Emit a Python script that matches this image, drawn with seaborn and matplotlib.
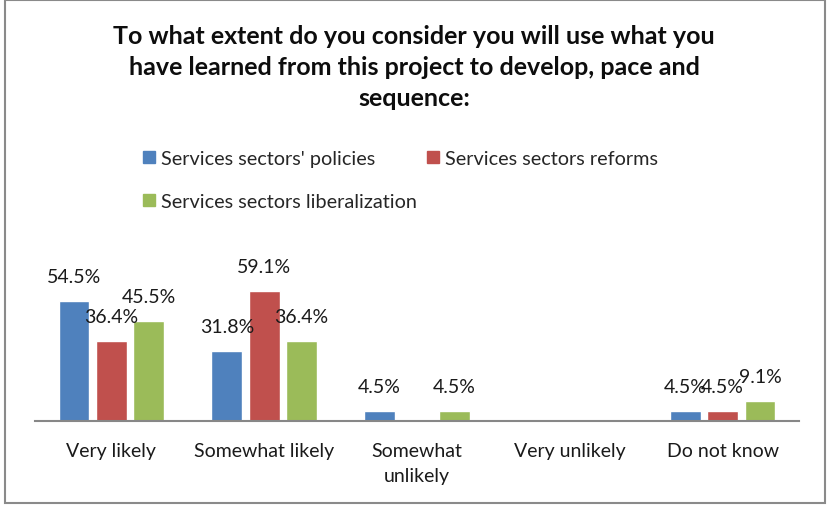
import matplotlib
matplotlib.use("Agg")
import matplotlib.pyplot as plt
import matplotlib.patches as mpatches
import pandas as pd
import seaborn as sns

# Survey answers and share of respondents (%) per area
categories = ["Very likely", "Somewhat likely", "Somewhat\nunlikely", "Very unlikely", "Do not know"]
series_names = ["Services sectors' policies", "Services sectors reforms", "Services sectors liberalization"]
policies = [54.5, 31.8, 4.5, 0.0, 4.5]
reforms = [36.4, 59.1, 0.0, 0.0, 4.5]
liberalization = [45.5, 36.4, 4.5, 0.0, 9.1]
colors = ["#4F81BD", "#C0504D", "#9BBB59"]
title = "To what extent do you consider you will use what you\nhave learned from this project to develop, pace and\nsequence:"

rows = []
for name, vals in zip(series_names, [policies, reforms, liberalization]):
    for cat, v in zip(categories, vals):
        rows.append({"answer": cat, "series": name, "value": v})
df = pd.DataFrame(rows)

sns.set_theme(style="white")
plt.rcParams["font.family"] = ["Lato", "DejaVu Sans"]

W, H = 828, 506
fig = plt.figure(figsize=(W / 100, H / 100), dpi=100)
fig.patch.set_facecolor("white")

# outer chart frame
frame = mpatches.Rectangle((5.5 / W, 2.5 / H), 820 / W, 503 / H, transform=fig.transFigure,
                           fill=False, edgecolor="#8a8a8a", linewidth=1.5)
fig.add_artist(frame)

ax = fig.add_axes([35 / W, (H - 421.7) / H, 764 / W, 154 / H])
sns.barplot(data=df, x="answer", y="value", hue="series", order=categories,
            hue_order=series_names, palette=colors, width=0.735, gap=0.18,
            saturation=1, legend=False, ax=ax, errorbar=None)
ax.set_ylim(0, 70)
ax.set_xlim(-0.5, 4.5)

for container in ax.containers:
    for bar in container:
        h = bar.get_height()
        if h > 0:
            ax.annotate(f"{h:.1f}%", (bar.get_x() + bar.get_width() / 2, h),
                        xytext=(0, 13.5), textcoords="offset points",
                        ha="center", va="baseline", fontsize=14, color="#1a1a1a")

for side in ["left", "right", "top"]:
    ax.spines[side].set_visible(False)
ax.spines["bottom"].set_color("#878787")
ax.spines["bottom"].set_linewidth(1.5)
ax.set_yticks([])
ax.set_xlabel("")
ax.set_ylabel("")
ax.tick_params(axis="x", length=0, pad=15, labelsize=14, colors="#1a1a1a")
for lbl in ax.get_xticklabels():
    lbl.set_linespacing(1.6)

fig.text(414 / W, 1 - 25 / H, title, ha="center", va="top", fontsize=18,
         fontweight="bold", color="#0d0d0d", linespacing=1.43)

handles = [mpatches.Patch(color=c, label=n) for c, n in zip(colors, series_names)]
order = [0, 2, 1]
fig.legend([handles[i] for i in order], [series_names[i] for i in order],
           loc="upper left", bbox_to_anchor=(143 / W, 1 - 151 / H), ncol=2,
           frameon=False, fontsize=14.3, handlelength=0.6, handleheight=0.6,
           handletextpad=0.3, columnspacing=0.5, labelspacing=1.3,
           borderaxespad=0, borderpad=0)

fig.savefig("out.png", dpi=100, facecolor="white")
